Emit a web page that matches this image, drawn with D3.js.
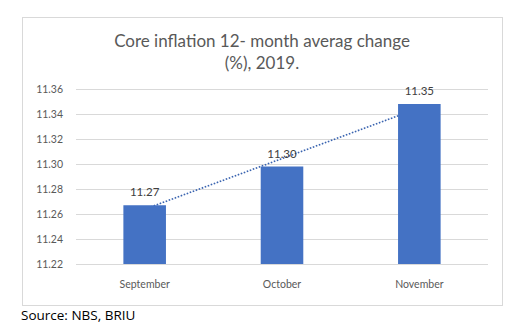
<!DOCTYPE html>
<html><head><meta charset="utf-8">
<script src="https://cdn.jsdelivr.net/npm/d3@7"></script>
<style>
body{margin:0;background:#fff;}
svg{display:block;font-family:Lato,"Open Sans",sans-serif;}
</style></head>
<body>
<svg id="c" width="519" height="330"></svg>
<script>
const categories = ["September","October","November"];
const values = [11.267, 11.298, 11.348];
const labels = ["11.27","11.30","11.35"];
const yTicks = [11.22,11.24,11.26,11.28,11.30,11.32,11.34,11.36];
const titleLines = ["Core inflation 12- month averag change","(%), 2019."];
const sourceText = "Source: NBS, BRIU";

const svg = d3.select("#c");
svg.append("rect").attr("x",22.5).attr("y",17.5).attr("width",480).attr("height",288)
  .attr("fill","#fff").attr("stroke","#d9d9d9");

const x = d3.scaleBand().domain(categories).range([76,488]).paddingInner(0.69).paddingOuter(0.345);
const y = d3.scaleLinear().domain([11.22,11.36]).range([264,89]);

// gridlines
svg.append("g").selectAll("line").data(yTicks).join("line")
  .attr("x1",76).attr("x2",488).attr("y1",d=>Math.round(y(d))+0.5).attr("y2",d=>Math.round(y(d))+0.5)
  .attr("stroke","#d9d9d9").attr("stroke-width",1);

// y axis labels
const ya = d3.axisLeft(y).tickValues(yTicks).tickFormat(d3.format(".2f")).tickSize(0).tickPadding(0);
const gy = svg.append("g").attr("transform","translate(63,0)").call(ya);
gy.select(".domain").remove();
gy.selectAll("text").attr("fill","#595959").style("font-size","10.5px").style("font-family","Lato,sans-serif");

// trend line (least squares), drawn behind bars
const n = values.length, xs = d3.range(1,n+1);
const mx = d3.mean(xs), my = d3.mean(values);
const slope = d3.sum(xs.map((v,i)=>(v-mx)*(values[i]-my)))/d3.sum(xs.map(v=>(v-mx)*(v-mx)));
const icpt = my - slope*mx;
const cx = c => x(c)+x.bandwidth()/2;
svg.append("line")
  .attr("x1",cx(categories[0])).attr("y1",y(icpt+slope*1))
  .attr("x2",cx(categories[n-1])).attr("y2",y(icpt+slope*n))
  .attr("stroke","#3a64b0").attr("stroke-width",1.6).attr("stroke-dasharray","1.6,1.6");

// bars
svg.append("g").selectAll("rect").data(values).join("rect")
  .attr("x",(d,i)=>x(categories[i])).attr("width",x.bandwidth())
  .attr("y",d=>y(d)).attr("height",d=>y(11.22)-y(d)).attr("fill","#4472C4");

// data labels
svg.append("g").selectAll("text").data(values).join("text")
  .attr("x",(d,i)=>cx(categories[i])).attr("y",d=>y(d)-9)
  .attr("text-anchor","middle").attr("fill","#404040").style("font-size","11.5px")
  .text((d,i)=>labels[i]);

// x axis labels
const xa = d3.axisBottom(x).tickSize(0).tickPadding(0);
const gx = svg.append("g").attr("transform","translate(0,285)").call(xa);
gx.select(".domain").remove();
gx.selectAll("text").attr("fill","#595959").style("font-size","10.5px").style("font-family","Lato,sans-serif").attr("dy","0.3em").attr("y",0);

// title
svg.append("g").selectAll("text").data(titleLines).join("text")
  .attr("x",262).attr("y",(d,i)=>47+i*22).attr("text-anchor","middle")
  .attr("fill","#595959").style("font-size","17px").text(d=>d);

// source
svg.append("text").attr("x",21).attr("y",320).attr("fill","#000").style("font-size","13.5px")
  .style("font-family","'Open Sans',sans-serif").text(sourceText);
</script>
</body></html>
